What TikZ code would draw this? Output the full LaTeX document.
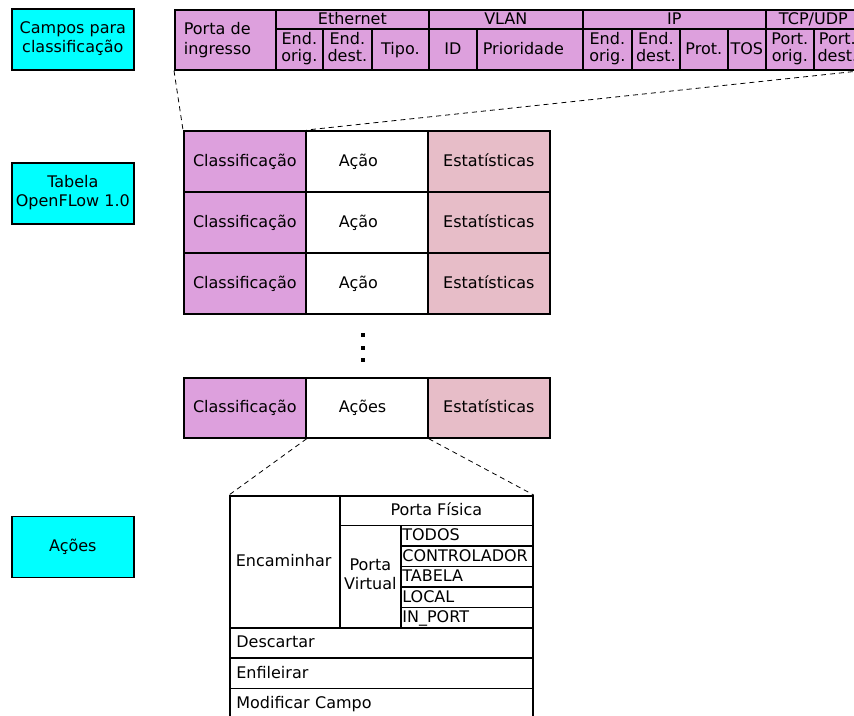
\documentclass[tikz,border=0pt]{standalone}
\usepackage{fontspec}
\setmainfont{DejaVu Sans}
\definecolor{plum}{RGB}{221,160,221}
\definecolor{rosy}{RGB}{231,189,200}
\definecolor{aqua}{RGB}{0,255,255}
% invisible strut: 14.5pt above the baseline, 4.5pt below
\newcommand{\cellstrut}{\rule[-4.5pt]{0pt}{19pt}}
\begin{document}
\hyphenpenalty=10000
\begin{tikzpicture}[x=1pt,y=-1pt,
  every node/.style={font=\fontsize{16}{19}\selectfont},
  cell/.style 2 args={draw, line width=1.7pt, anchor=north west, inner sep=0pt,
    minimum width=#1pt, minimum height=#2pt, align=center,
    execute at begin node=\cellstrut, execute at end node=\cellstrut},
  tight/.style={font=\fontsize{16}{17.5}\selectfont},
  lpad/.style 2 args={text width=#1pt, inner xsep=#2pt, align=left},
  field/.style={fill=plum},
  stat/.style={fill=rosy},
  legend/.style={cell={122}{61}, fill=aqua},
  conn/.style={line width=0.8pt, dash pattern=on 5pt off 4pt}]
\useasboundingbox (0,0) rectangle (854,715);

% legend boxes on the left
\node[legend] (lab1) at (11,8) {Campos para\\classificação};
\node[legend] (lab2) at (11,162) {Tabela\\OpenFLow 1.0};
\node[legend] (lab3) at (11,515.5) {Ações};

% header fields used for classification
\node[cell={101}{60}, field, tight, lpad={83}{9}] (pin) at (174,9) {Porta de\\ingresso};
\node[cell={153}{19}, field] (eth) at (275,9) {Ethernet};
\node[cell={47}{41}, field, tight] (eo) at (275,28) {End.\\orig.};
\node[cell={49}{41}, field, tight] (ed) at (322,28) {End.\\dest.};
\node[cell={57}{41}, field] (tipo) at (371,28) {Tipo.};
\node[cell={154}{19}, field] (vlan) at (428,9) {VLAN};
\node[cell={48}{41}, field] (vid) at (428,28) {ID};
\node[cell={106}{41}, field, lpad={94}{6}] (prio) at (476,28) {Prioridade};
\node[cell={183}{19}, field] (ip) at (582,9) {IP};
\node[cell={49}{41}, field, tight] (ipo) at (582,28) {End.\\orig.};
\node[cell={48}{41}, field, tight] (ipd) at (631,28) {End.\\dest.};
\node[cell={48}{41}, field] (prot) at (679,28) {Prot.};
\node[cell={38}{41}, field] (tos) at (727,28) {TOS};
\node[cell={95}{19}, field] (tcp) at (765,9) {TCP/UDP};
\node[cell={48}{41}, field, tight] (po) at (765,28) {Port.\\orig.};
\node[cell={47}{41}, field, tight] (pd) at (813,28) {Port.\\dest.};

% flow table entries
\foreach \i/\y in {1/130,2/191,3/252} {
  \node[cell={122}{61}, field] (cls\i) at (183,\y) {Classificação};
  \node[cell={122}{61}, lpad={56}{33}] (act\i) at (305,\y) {Ação};
  \node[cell={122}{61}, stat] (est\i) at (427,\y) {Estatísticas};
}
\foreach \y in {333,346,358}
  \fill (361,\y) rectangle ++(4,4);
\node[cell={122}{60}, field] (cls4) at (183,377) {Classificação};
\node[cell={122}{60}, lpad={56}{33}] (act4) at (305,377) {Ações};
\node[cell={122}{60}, stat] (est4) at (427,377) {Estatísticas};

% actions
\node[cell={110}{132}, lpad={98}{6}] (enc) at (229,495) {Encaminhar};
\node[cell={193}{29.5}] (pfis) at (339,495) {Porta Física};
\node[cell={61}{102.5}] (pvirt) at (339,524.5) {Porta\\Virtual};
\foreach \n/\y/\t in {todos/524.5/TODOS, ctrl/545/CONTROLADOR, tab/565.5/TABELA,
    loc/586/LOCAL, inp/606.5/IN\_PORT}
  \node[cell={132}{20.5}, lpad={129}{1.5}] (\n) at (400,\y) {\t};
\node[cell={303}{30}, lpad={290}{6.5}] (desc) at (229,627) {Descartar};
\node[cell={303}{30.5}, lpad={290}{6.5}] (enf) at (229,657) {Enfileirar};
\node[cell={303}{30}, lpad={290}{6.5}] (mod) at (229,687.5) {Modificar Campo};

% zoom-in guides
\draw[conn] (pin.south west) -- (cls1.north west);
\draw[conn] (pd.south east) -- (cls1.north east);
\draw[conn] (cls4.south east) -- (enc.north west);
\draw[conn] (act4.south east) -- (pfis.north east);
\end{tikzpicture}
\end{document}
